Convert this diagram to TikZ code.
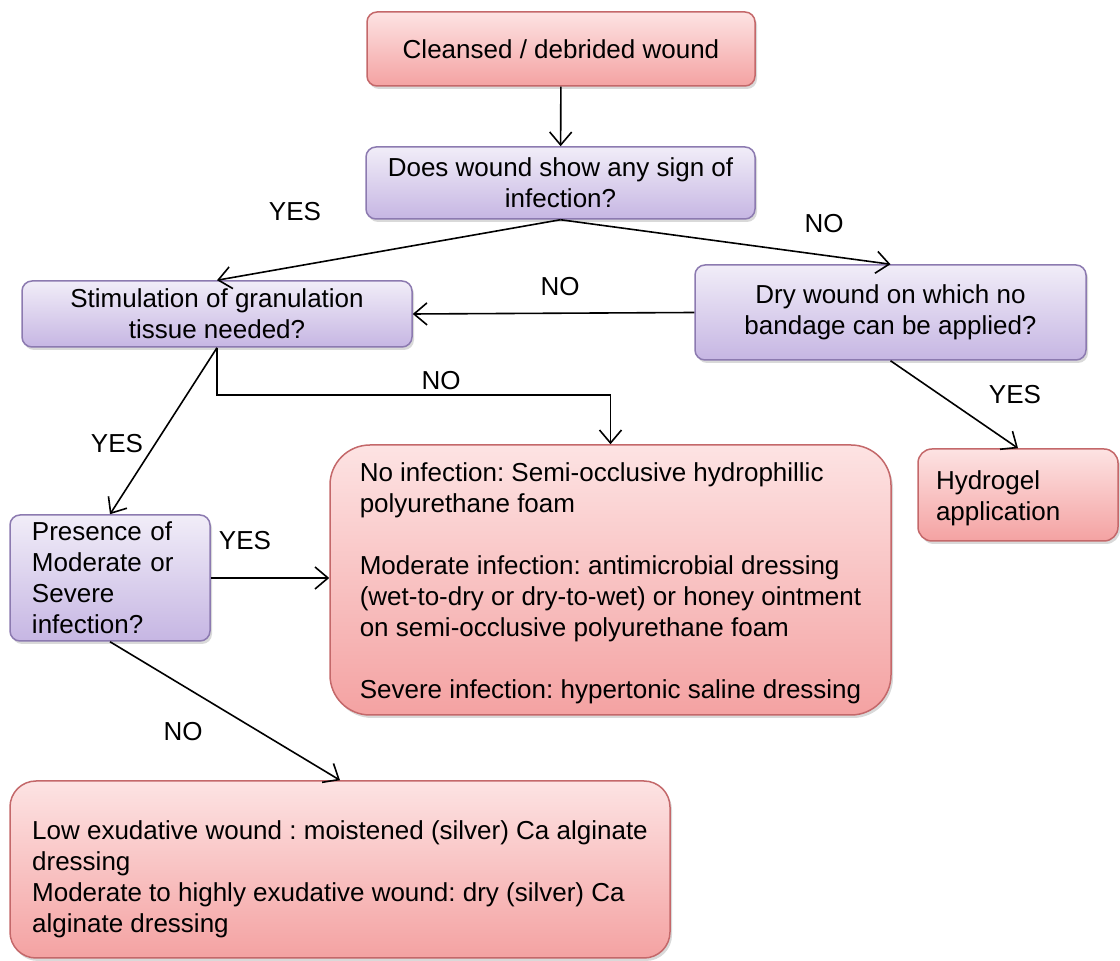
\documentclass[tikz,border=0pt]{standalone}
\usepackage{fontspec}
\setmainfont{Liberation Sans}
\usepackage{xcolor}
\usepackage{tikz}
\usetikzlibrary{positioning,arrows.meta,shadows}
\frenchspacing

\definecolor{pinktop}{HTML}{FDE3E3}
\definecolor{pinkbot}{HTML}{F4A2A2}
\definecolor{pinkline}{HTML}{C4686A}
\definecolor{lilactop}{HTML}{F1EDF8}
\definecolor{lilacbot}{HTML}{C6B6E3}
\definecolor{lilacline}{HTML}{8C7AB0}

\begin{document}
\begin{tikzpicture}[
  x=0.5pt, y=-0.5pt,
  every node/.style={font=\fontsize{13}{15.5}\selectfont},
  box/.style={draw, line width=0.75pt, inner sep=0pt, rounded corners=5pt,
    drop shadow={shadow xshift=1pt, shadow yshift=-1.5pt, opacity=.3}},
  outcome/.style={box, draw=pinkline, top color=pinktop, bottom color=pinkbot},
  question/.style={box, draw=lilacline, top color=lilactop, bottom color=lilacbot},
  answer/.style={inner sep=0pt},
  flow/.style={draw, line width=0.8pt, -{Straight Barb[length=6.5pt, width=11pt]}}]

  \useasboundingbox (0,0) rectangle (1120,961);

  \node[outcome, minimum width=194pt, minimum height=37pt, align=center] (cleansed) at (561,49) {Cleansed / debrided wound};
  \node[question, minimum width=194.5pt, minimum height=36pt, align=center] (infect) at (560.5,183) {Does wound show any sign of\\ infection?};
  \node[question, minimum width=195pt, minimum height=33pt, align=center] (granul) at (217,314) {Stimulation of granulation\\ tissue needed?};
  \node[question, minimum width=195.5pt, minimum height=47.5pt, align=center] (dry) at (890.5,312.5) {Dry wound on which no\\ bandage can be applied?};
  \node[outcome, rounded corners=7pt, minimum width=100pt, minimum height=46pt, text width=82pt, inner xsep=9pt, align=left] (hydrogel) at (1018,495) {\rule{0pt}{13pt}Hydrogel\\ application};
  \node[outcome, rounded corners=20pt, minimum width=280.5pt, minimum height=135pt, align=left] (dressing) at (610.5,580)
    {\rule{0pt}{13pt}No infection: Semi-occlusive hydrophillic\\ polyurethane foam\\[15.5pt]
     Moderate infection: antimicrobial dressing\\ (wet-to-dry or dry-to-wet) or honey ointment\\ on semi-occlusive polyurethane foam\\[15.5pt]
     Severe infection: hypertonic saline dressing};
  \node[question, minimum width=100pt, minimum height=63pt, text width=78pt, inner xsep=11pt, align=left] (severe) at (110,578) {Presence of\\ Moderate or\\ Severe\\ infection?};
  \node[outcome, rounded corners=13pt, minimum width=330pt, minimum height=88.5pt, align=left] (alginate) at (340,869.5)
    {\rule{0pt}{19pt}Low exudative wound : moistened (silver) Ca alginate\\ dressing\\
     Moderate to highly exudative wound: dry (silver) Ca\\ alginate dressing};

  % connectors
  \coordinate (elbow) at (217,395);
  \path[flow] (cleansed) -- (infect);
  \path[flow] (infect.south) -- (granul.north);
  \path[flow] (infect.south) -- (dry.north);
  \path[flow] (dry.west) -- (granul.east);
  \path[flow] (granul.south) -- (elbow) -| (dressing.north);
  \path[flow] (granul.south) -- (severe.north);
  \path[flow] (severe.east) -- (severe.east -| dressing.west);
  \path[flow] (severe.south) -- (alginate.north);
  \path[flow] (dry.south) -- (hydrogel.north);

  % answers
  \node[answer] (yes1) at (295,212) {YES};
  \node[answer] (no1) at (824,224) {NO};
  \node[answer] (no2) at (560,287) {NO};
  \node[answer] (no3) at (441,381) {NO};
  \node[answer] (yes2) at (117,444) {YES};
  \node[answer] (yes3) at (245,541) {YES};
  \node[answer] (yes4) at (1015,395) {YES};
  \node[answer] (no4) at (183,732) {NO};
\end{tikzpicture}
\end{document}
